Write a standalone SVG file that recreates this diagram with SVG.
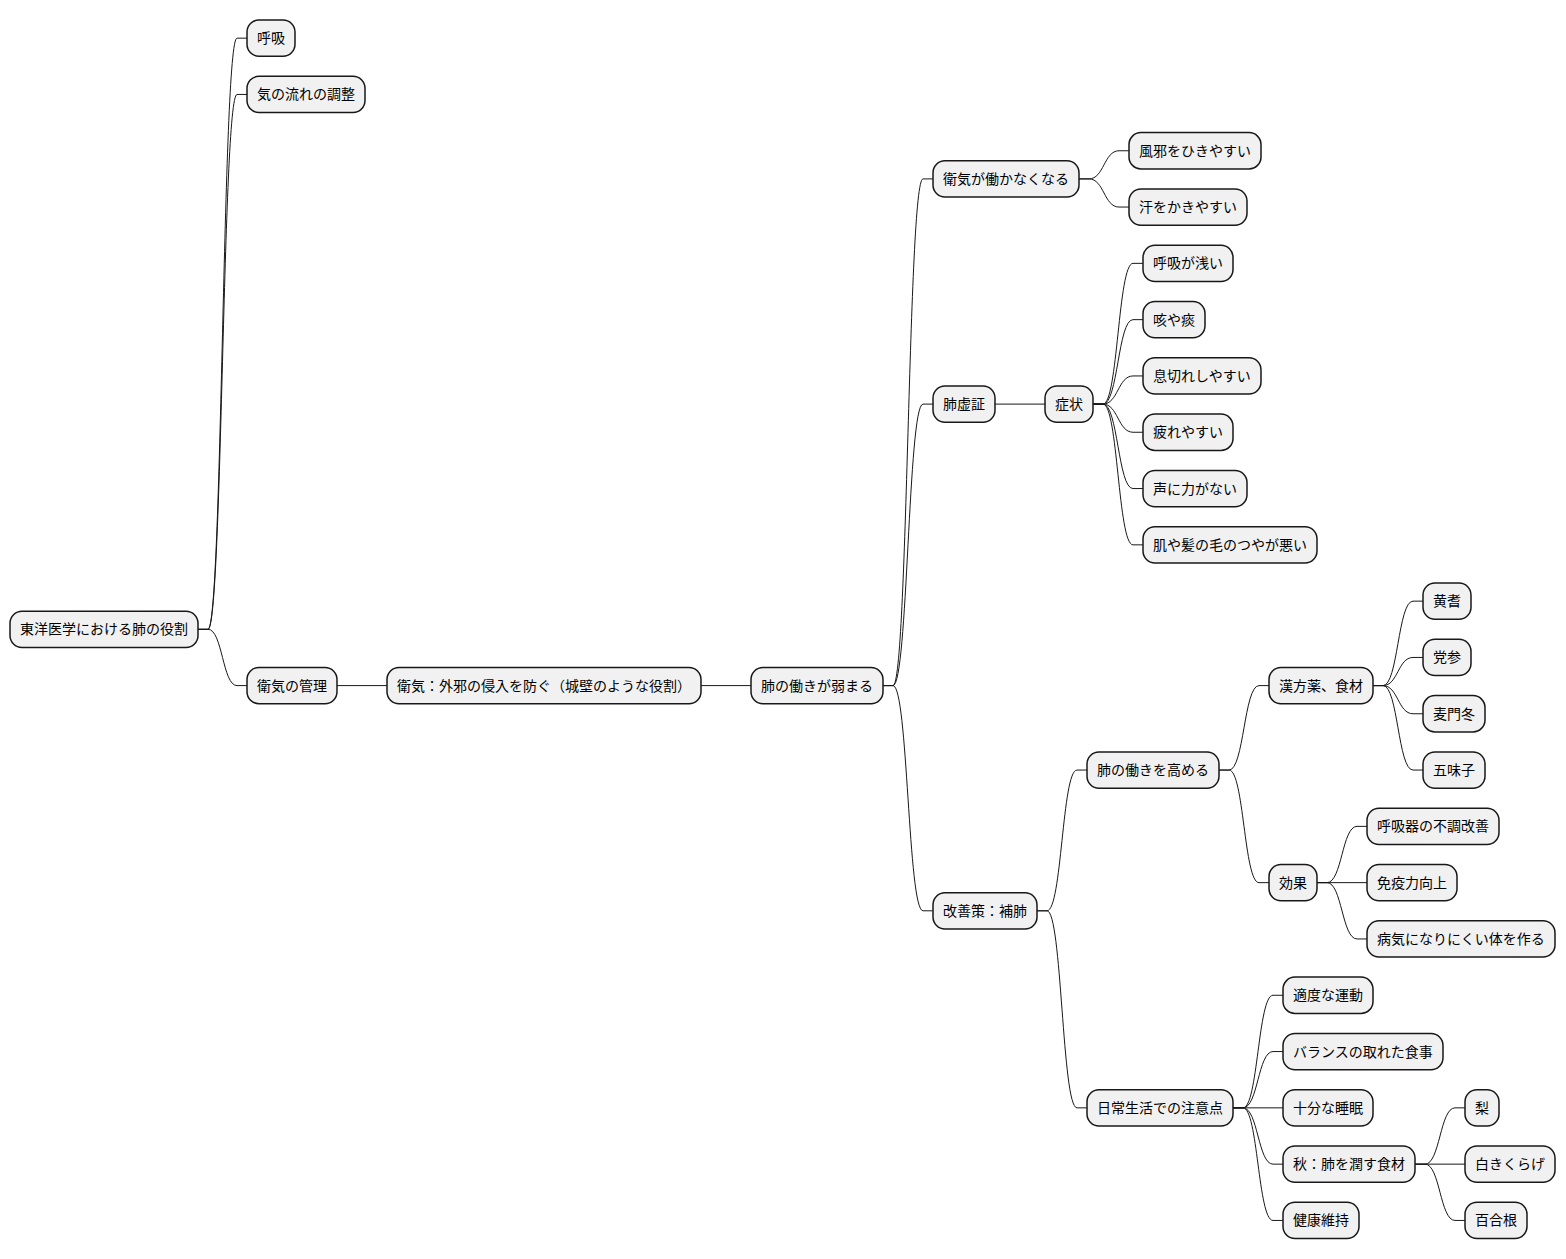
<svg xmlns="http://www.w3.org/2000/svg" width="1566" height="1259" viewBox="0 0 1566 1259">
<style>
.n rect{fill:#F1F1F1;stroke:#181818;stroke-width:1.5}
.n text{font-family:"Noto Sans CJK JP","Noto Sans",sans-serif;font-size:14px;fill:#000}
#connectors path{fill:none;stroke:#181818;stroke-width:1}
</style>
<rect width="1566" height="1259" fill="#FFFFFF"/>
<g id="connectors">
<path d="M198,629.3 L208,629.3 C222.5,629.3 222.5,38.15 237,38.15 L247,38.15"/>
<path d="M198,629.3 L208,629.3 C222.5,629.3 222.5,94.45 237,94.45 L247,94.45"/>
<path d="M198,629.3 L208,629.3 C222.5,629.3 222.5,685.6 237,685.6 L247,685.6"/>
<path d="M337,685.6 L387,685.6"/>
<path d="M701,685.6 L751,685.6"/>
<path d="M883,685.6 L893,685.6 C908,685.6 908,178.9 923,178.9 L933,178.9"/>
<path d="M883,685.6 L893,685.6 C908,685.6 908,404.1 923,404.1 L933,404.1"/>
<path d="M883,685.6 L893,685.6 C908,685.6 908,910.8 923,910.8 L933,910.8"/>
<path d="M1079,178.9 L1089,178.9 C1104,178.9 1104,150.75 1119,150.75 L1129,150.75"/>
<path d="M1079,178.9 L1089,178.9 C1104,178.9 1104,207.05 1119,207.05 L1129,207.05"/>
<path d="M995,404.1 L1045,404.1"/>
<path d="M1093,404.1 L1103,404.1 C1118,404.1 1118,263.35 1133,263.35 L1143,263.35"/>
<path d="M1093,404.1 L1103,404.1 C1118,404.1 1118,319.65 1133,319.65 L1143,319.65"/>
<path d="M1093,404.1 L1103,404.1 C1118,404.1 1118,375.95 1133,375.95 L1143,375.95"/>
<path d="M1093,404.1 L1103,404.1 C1118,404.1 1118,432.25 1133,432.25 L1143,432.25"/>
<path d="M1093,404.1 L1103,404.1 C1118,404.1 1118,488.55 1133,488.55 L1143,488.55"/>
<path d="M1093,404.1 L1103,404.1 C1118,404.1 1118,544.85 1133,544.85 L1143,544.85"/>
<path d="M1037,910.8 L1047,910.8 C1062,910.8 1062,770.05 1077,770.05 L1087,770.05"/>
<path d="M1037,910.8 L1047,910.8 C1062,910.8 1062,1107.85 1077,1107.85 L1087,1107.85"/>
<path d="M1219,770.05 L1229,770.05 C1244,770.05 1244,685.6 1259,685.6 L1269,685.6"/>
<path d="M1219,770.05 L1229,770.05 C1244,770.05 1244,882.65 1259,882.65 L1269,882.65"/>
<path d="M1373,685.6 L1383,685.6 C1398,685.6 1398,601.15 1413,601.15 L1423,601.15"/>
<path d="M1373,685.6 L1383,685.6 C1398,685.6 1398,657.45 1413,657.45 L1423,657.45"/>
<path d="M1373,685.6 L1383,685.6 C1398,685.6 1398,713.75 1413,713.75 L1423,713.75"/>
<path d="M1373,685.6 L1383,685.6 C1398,685.6 1398,770.05 1413,770.05 L1423,770.05"/>
<path d="M1317,882.65 L1327,882.65 C1342,882.65 1342,826.35 1357,826.35 L1367,826.35"/>
<path d="M1317,882.65 L1367,882.65"/>
<path d="M1317,882.65 L1327,882.65 C1342,882.65 1342,938.95 1357,938.95 L1367,938.95"/>
<path d="M1233,1107.85 L1243,1107.85 C1258,1107.85 1258,995.25 1273,995.25 L1283,995.25"/>
<path d="M1233,1107.85 L1243,1107.85 C1258,1107.85 1258,1051.55 1273,1051.55 L1283,1051.55"/>
<path d="M1233,1107.85 L1283,1107.85"/>
<path d="M1233,1107.85 L1243,1107.85 C1258,1107.85 1258,1164.15 1273,1164.15 L1283,1164.15"/>
<path d="M1233,1107.85 L1243,1107.85 C1258,1107.85 1258,1220.45 1273,1220.45 L1283,1220.45"/>
<path d="M1415,1164.15 L1425,1164.15 C1440,1164.15 1440,1107.85 1455,1107.85 L1465,1107.85"/>
<path d="M1415,1164.15 L1465,1164.15"/>
<path d="M1415,1164.15 L1425,1164.15 C1440,1164.15 1440,1220.45 1455,1220.45 L1465,1220.45"/>
</g>
<g id="n0" class="n"><rect x="10" y="611.15" width="188" height="36.3" rx="12" ry="12"/><text x="20" y="634.3">東洋医学における肺の役割</text></g>
<g id="n1" class="n"><rect x="247" y="20" width="48" height="36.3" rx="12" ry="12"/><text x="257" y="43.15">呼吸</text></g>
<g id="n2" class="n"><rect x="247" y="76.3" width="118" height="36.3" rx="12" ry="12"/><text x="257" y="99.45">気の流れの調整</text></g>
<g id="n3" class="n"><rect x="247" y="667.45" width="90" height="36.3" rx="12" ry="12"/><text x="257" y="690.6">衛気の管理</text></g>
<g id="n4" class="n"><rect x="387" y="667.45" width="314" height="36.3" rx="12" ry="12"/><text x="397" y="690.6">衛気：外邪の侵入を防ぐ（城壁のような役割）</text></g>
<g id="n5" class="n"><rect x="751" y="667.45" width="132" height="36.3" rx="12" ry="12"/><text x="761" y="690.6">肺の働きが弱まる</text></g>
<g id="n6" class="n"><rect x="933" y="160.75" width="146" height="36.3" rx="12" ry="12"/><text x="943" y="183.9">衛気が働かなくなる</text></g>
<g id="n7" class="n"><rect x="1129" y="132.6" width="132" height="36.3" rx="12" ry="12"/><text x="1139" y="155.75">風邪をひきやすい</text></g>
<g id="n8" class="n"><rect x="1129" y="188.9" width="118" height="36.3" rx="12" ry="12"/><text x="1139" y="212.05">汗をかきやすい</text></g>
<g id="n9" class="n"><rect x="933" y="385.95" width="62" height="36.3" rx="12" ry="12"/><text x="943" y="409.1">肺虚証</text></g>
<g id="n10" class="n"><rect x="1045" y="385.95" width="48" height="36.3" rx="12" ry="12"/><text x="1055" y="409.1">症状</text></g>
<g id="n11" class="n"><rect x="1143" y="245.2" width="90" height="36.3" rx="12" ry="12"/><text x="1153" y="268.35">呼吸が浅い</text></g>
<g id="n12" class="n"><rect x="1143" y="301.5" width="62" height="36.3" rx="12" ry="12"/><text x="1153" y="324.65">咳や痰</text></g>
<g id="n13" class="n"><rect x="1143" y="357.8" width="118" height="36.3" rx="12" ry="12"/><text x="1153" y="380.95">息切れしやすい</text></g>
<g id="n14" class="n"><rect x="1143" y="414.1" width="90" height="36.3" rx="12" ry="12"/><text x="1153" y="437.25">疲れやすい</text></g>
<g id="n15" class="n"><rect x="1143" y="470.4" width="104" height="36.3" rx="12" ry="12"/><text x="1153" y="493.55">声に力がない</text></g>
<g id="n16" class="n"><rect x="1143" y="526.7" width="174" height="36.3" rx="12" ry="12"/><text x="1153" y="549.85">肌や髪の毛のつやが悪い</text></g>
<g id="n17" class="n"><rect x="933" y="892.65" width="104" height="36.3" rx="12" ry="12"/><text x="943" y="915.8">改善策：補肺</text></g>
<g id="n18" class="n"><rect x="1087" y="751.9" width="132" height="36.3" rx="12" ry="12"/><text x="1097" y="775.05">肺の働きを高める</text></g>
<g id="n19" class="n"><rect x="1269" y="667.45" width="104" height="36.3" rx="12" ry="12"/><text x="1279" y="690.6">漢方薬、食材</text></g>
<g id="n20" class="n"><rect x="1423" y="583" width="48" height="36.3" rx="12" ry="12"/><text x="1433" y="606.15">黄耆</text></g>
<g id="n21" class="n"><rect x="1423" y="639.3" width="48" height="36.3" rx="12" ry="12"/><text x="1433" y="662.45">党参</text></g>
<g id="n22" class="n"><rect x="1423" y="695.6" width="62" height="36.3" rx="12" ry="12"/><text x="1433" y="718.75">麦門冬</text></g>
<g id="n23" class="n"><rect x="1423" y="751.9" width="62" height="36.3" rx="12" ry="12"/><text x="1433" y="775.05">五味子</text></g>
<g id="n24" class="n"><rect x="1269" y="864.5" width="48" height="36.3" rx="12" ry="12"/><text x="1279" y="887.65">効果</text></g>
<g id="n25" class="n"><rect x="1367" y="808.2" width="132" height="36.3" rx="12" ry="12"/><text x="1377" y="831.35">呼吸器の不調改善</text></g>
<g id="n26" class="n"><rect x="1367" y="864.5" width="90" height="36.3" rx="12" ry="12"/><text x="1377" y="887.65">免疫力向上</text></g>
<g id="n27" class="n"><rect x="1367" y="920.8" width="188" height="36.3" rx="12" ry="12"/><text x="1377" y="943.95">病気になりにくい体を作る</text></g>
<g id="n28" class="n"><rect x="1087" y="1089.7" width="146" height="36.3" rx="12" ry="12"/><text x="1097" y="1112.85">日常生活での注意点</text></g>
<g id="n29" class="n"><rect x="1283" y="977.1" width="90" height="36.3" rx="12" ry="12"/><text x="1293" y="1000.25">適度な運動</text></g>
<g id="n30" class="n"><rect x="1283" y="1033.4" width="160" height="36.3" rx="12" ry="12"/><text x="1293" y="1056.55">バランスの取れた食事</text></g>
<g id="n31" class="n"><rect x="1283" y="1089.7" width="90" height="36.3" rx="12" ry="12"/><text x="1293" y="1112.85">十分な睡眠</text></g>
<g id="n32" class="n"><rect x="1283" y="1146" width="132" height="36.3" rx="12" ry="12"/><text x="1293" y="1169.15">秋：肺を潤す食材</text></g>
<g id="n33" class="n"><rect x="1465" y="1089.7" width="34" height="36.3" rx="12" ry="12"/><text x="1475" y="1112.85">梨</text></g>
<g id="n34" class="n"><rect x="1465" y="1146" width="90" height="36.3" rx="12" ry="12"/><text x="1475" y="1169.15">白きくらげ</text></g>
<g id="n35" class="n"><rect x="1465" y="1202.3" width="62" height="36.3" rx="12" ry="12"/><text x="1475" y="1225.45">百合根</text></g>
<g id="n36" class="n"><rect x="1283" y="1202.3" width="76" height="36.3" rx="12" ry="12"/><text x="1293" y="1225.45">健康維持</text></g>
</svg>
